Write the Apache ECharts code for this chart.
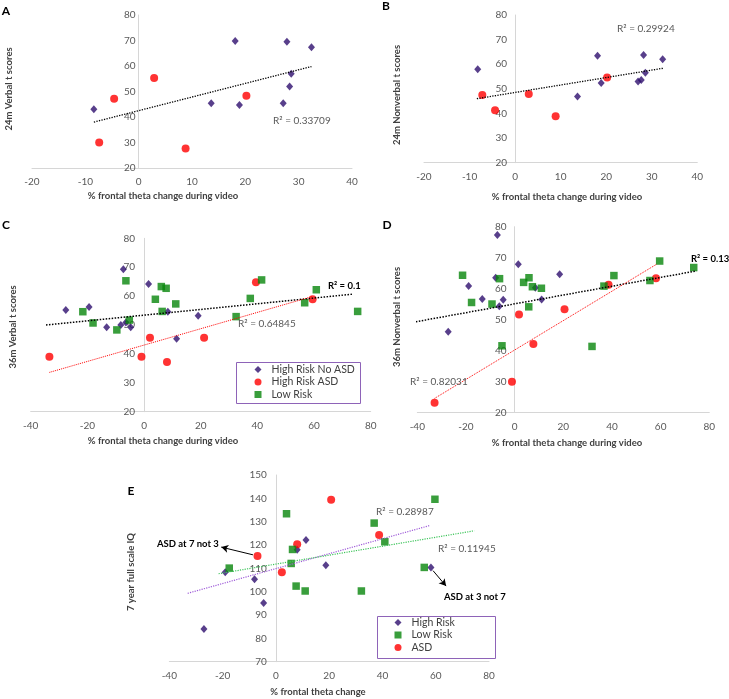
<!DOCTYPE html>
<html><head><meta charset="utf-8">
<script src="https://cdn.jsdelivr.net/npm/echarts@6/dist/echarts.min.js"></script>
<style>html,body{margin:0;padding:0;background:#fff}#c{width:729px;height:699px}</style>
</head><body><div id="c"></div>
<script>
// ---------- tick labels ----------
const xTicksAB = [-20, -10, 0, 10, 20, 30, 40];
const yTicksABCD = [20, 30, 40, 50, 60, 70, 80];
const xTicksCDE = [-40, -20, 0, 20, 40, 60, 80];
const yTicksE = [70, 80, 90, 100, 110, 120, 130, 140, 150];

// ---------- Panel A: 24m Verbal t scores ----------
const aHighRiskNoASD = [[-8.4,43.0],[18.1,69.8],[27.8,69.5],[32.4,67.4],[28.6,57.0],[28.3,52.0],[13.6,45.4],[18.9,44.7],[27.1,45.4]];
const aHighRiskASD = [[2.9,55.3],[-4.6,47.2],[-7.4,30.0],[8.8,27.6],[20.2,48.3]];
const aTrendAll = [[-8.4,38.0],[32.4,59.8]];

// ---------- Panel B: 24m Nonverbal t scores ----------
const bHighRiskNoASD = [[-8.2,58.0],[18.1,63.4],[28.2,63.8],[32.4,62.0],[28.6,56.5],[27.7,53.6],[27.0,53.0],[18.9,52.4],[13.7,46.9]];
const bHighRiskASD = [[-7.2,47.5],[-4.4,41.3],[3.0,47.9],[8.9,38.9],[20.2,54.6]];
const bTrendAll = [[-8.4,46.0],[32.6,58.4]];

// ---------- Panel C: 36m Verbal t scores ----------
const cHighRiskNoASD = [[-27.6,55.2],[-19.4,56.2],[-7.3,69.3],[1.6,64.2],[-13.2,49.2],[-8.2,50.0],[-6.4,50.9],[-4.7,49.2],[8.4,54.6],[11.5,45.2],[19.1,53.2]];
const cHighRiskASD = [[-33.4,39.0],[-0.9,39.0],[2.1,45.6],[8.1,37.2],[21.2,45.6],[39.5,64.8],[59.5,58.9]];
const cLowRisk = [[-6.4,65.3],[-21.6,54.6],[-18.0,50.7],[-9.6,48.3],[-5.2,51.7],[4.0,58.9],[6.1,63.3],[7.8,62.7],[6.4,54.7],[11.2,57.3],[32.5,52.9],[37.5,59.2],[41.5,65.6],[56.7,57.7],[60.8,62.2],[75.4,54.7]];
const cTrendAll = [[-34.6,50.0],[73.9,60.7]];
const cTrendASD = [[-33.4,33.6],[59.2,59.8]];

// ---------- Panel D: 36m Nonverbal t scores ----------
const dHighRiskNoASD = [[-7.1,77.3],[1.5,67.9],[-7.8,63.5],[-18.9,60.8],[-13.3,56.6],[-4.7,56.4],[-6.3,54.3],[-27.3,46.0],[18.5,64.6],[8.5,60.3],[11.1,56.5]];
const dHighRiskASD = [[-32.9,23.1],[-1.1,29.9],[1.8,51.6],[7.7,42.1],[20.5,53.3],[38.6,61.2],[58.1,63.3]];
const dLowRisk = [[-21.4,64.3],[-6.2,63.2],[-17.7,55.5],[-9.3,55.0],[-5.2,41.5],[3.7,62.0],[5.9,63.5],[7.3,60.6],[11.0,60.1],[5.8,54.1],[31.8,41.3],[36.7,60.8],[40.8,64.2],[55.6,62.6],[59.6,68.9],[73.6,66.8]];
const dTrendAll = [[-41.8,49.1],[74.7,65.7]];
const dTrendASD = [[-32.9,24.5],[58.2,67.8]];

// ---------- Panel E: 7 year full scale IQ ----------
const eHighRisk = [[-27.0,84.0],[-19.0,108.3],[-8.0,105.3],[-4.6,95.1],[8.0,118.0],[11.3,122.2],[18.75,111.3],[58.2,110.4]];
const eLowRisk = [[-17.5,110.1],[4.0,133.4],[6.25,118.1],[5.75,112.1],[7.6,102.4],[11.0,100.3],[32.1,100.3],[36.9,129.4],[40.9,121.4],[59.7,139.6],[55.7,110.4]];
const eASD = [[-6.9,115.3],[2.25,108.3],[8.0,120.3],[20.75,139.4],[38.75,124.3]];
const eTrendHighRisk = [[-33.1,99.3],[57.9,128.4]];
const eTrendLowRisk = [[-21.5,107.7],[74.5,126.1]];
const eArrow7not3 = [[-8.6,115.8],[-20.5,119.1]];
const eArrow3not7 = [[59.0,109.0],[63.9,102.4]];

// ---------- styles ----------
const FONT = 'Lato, "Noto Sans", sans-serif';
const NAVY = '#2E0F6E', RED = '#FF0000', GREEN = '#07860B';
const AXIS_GREY = '#D6D6D6', LABEL_GREY = '#595959';

const grids = [
  {left: 32, top: 15, width: 320, height: 153},
  {left: 424, top: 15, width: 273.3, height: 147.7},
  {left: 30.7, top: 238.3, width: 340, height: 173.4},
  {left: 417.3, top: 226.7, width: 292, height: 185.6},
  {left: 169.3, top: 475, width: 319.7, height: 186.7}
];

function xAx(gi, ticks) {
  return {type: 'value', gridIndex: gi, min: ticks[0], max: ticks[ticks.length - 1], interval: ticks[1] - ticks[0],
    axisLine: {onZero: false, lineStyle: {color: AXIS_GREY, width: 1}}, axisTick: {show: false}, splitLine: {show: false},
    axisLabel: {color: LABEL_GREY, fontSize: 10, fontFamily: FONT, margin: 9}};
}
// y axis crosses the x axis at x = 0 (Excel style)
function yAx(gi, ticks, xTicks, margin) {
  const xmin = xTicks[0], xmax = xTicks[xTicks.length - 1];
  const shift = grids[gi].width * (0 - xmin) / (xmax - xmin);
  return {type: 'value', gridIndex: gi, min: ticks[0], max: ticks[ticks.length - 1], interval: ticks[1] - ticks[0],
    offset: -shift,
    axisLine: {onZero: false, lineStyle: {color: AXIS_GREY, width: 1}}, axisTick: {show: false}, splitLine: {show: false},
    axisLabel: {color: LABEL_GREY, fontSize: 10, fontFamily: FONT, margin: margin}};
}

function diamonds(name, gi, data) {
  return {type: 'scatter', name, xAxisIndex: gi, yAxisIndex: gi, data, symbol: 'diamond', symbolSize: [7, 8], itemStyle: {color: NAVY}, z: 3};
}
function circles(name, gi, data) {
  return {type: 'scatter', name, xAxisIndex: gi, yAxisIndex: gi, data, symbol: 'circle', symbolSize: 8, itemStyle: {color: RED}, z: 4};
}
function squares(name, gi, data) {
  return {type: 'scatter', name, xAxisIndex: gi, yAxisIndex: gi, data, symbol: 'rect', symbolSize: 7.5, itemStyle: {color: GREEN}, z: 5};
}
function trend(gi, data, color, width, dash) {
  return {type: 'line', xAxisIndex: gi, yAxisIndex: gi, data, showSymbol: false, symbol: 'none', silent: true, z: 6,
    lineStyle: {color, width, type: dash}};
}
function arrow(gi, pts) {
  return {type: 'line', xAxisIndex: gi, yAxisIndex: gi, data: [], silent: true, z: 7,
    markLine: {silent: true, animation: false, symbol: ['none', 'arrow'], symbolSize: [6, 7],
      label: {show: false}, lineStyle: {color: '#000', width: 1, type: 'solid'},
      data: [[{coord: pts[0]}, {coord: pts[1]}]]}};
}

function txt(x, y, text, opts) {
  opts = opts || {};
  return {type: 'text', x, y, rotation: opts.rot || 0, z: 10,
    style: {text, fill: opts.color || '#404040', font: (opts.weight || 'normal') + ' ' + (opts.size || 10) + 'px ' + FONT,
      textAlign: opts.align || 'left', textVerticalAlign: 'middle'}};
}

const graphics = [
  // panel letters
  txt(6, 11, 'A', {weight: 'bold', size: 12, color: '#000', align: 'center'}),
  txt(386, 6, 'B', {weight: 'bold', size: 12, color: '#000', align: 'center'}),
  txt(6, 225, 'C', {weight: 'bold', size: 12, color: '#000', align: 'center'}),
  txt(387, 225, 'D', {weight: 'bold', size: 12, color: '#000', align: 'center'}),
  txt(131, 491, 'E', {weight: 'bold', size: 12, color: '#000', align: 'center'}),
  // axis titles
  txt(163, 196, '% frontal theta change during video', {weight: 'bold', size: 9.5, align: 'center'}),
  txt(567, 197, '% frontal theta change during video', {weight: 'bold', size: 9.5, align: 'center'}),
  txt(163, 441, '% frontal theta change during video', {weight: 'bold', size: 9.5, align: 'center'}),
  txt(567, 443, '% frontal theta change during video', {weight: 'bold', size: 9.5, align: 'center'}),
  txt(318, 692, '% frontal theta change', {weight: 'bold', size: 9.5, align: 'center'}),
  txt(9, 89, '24m Verbal t scores', {weight: 'bold', size: 9.5, align: 'center', rot: Math.PI / 2}),
  txt(397, 95, '24m Nonverbal t scores', {weight: 'bold', size: 9.5, align: 'center', rot: Math.PI / 2}),
  txt(13, 327, '36m Verbal t scores', {weight: 'bold', size: 9.5, align: 'center', rot: Math.PI / 2}),
  txt(397, 317, '36m Nonverbal t scores', {weight: 'bold', size: 9.5, align: 'center', rot: Math.PI / 2}),
  txt(131, 572, '7 year full scale IQ', {weight: 'bold', size: 9.5, align: 'center', rot: Math.PI / 2}),
  // R² labels
  txt(273, 121, 'R² = 0.33709', {color: LABEL_GREY}),
  txt(617, 29, 'R² = 0.29924', {color: LABEL_GREY}),
  txt(328, 286, 'R² = 0.1', {color: '#000', weight: 'bold', size: 9.5}),
  txt(238, 324, 'R² = 0.64845', {color: LABEL_GREY}),
  txt(691, 259, 'R² = 0.13', {color: '#000', weight: 'bold', size: 9.5}),
  txt(410, 382, 'R² = 0.82031', {color: LABEL_GREY}),
  txt(376, 512, 'R² = 0.28987', {color: LABEL_GREY}),
  txt(438, 549, 'R² = 0.11945', {color: LABEL_GREY}),
  // annotations
  txt(157, 544, 'ASD at 7 not 3', {color: '#000', weight: 'bold', size: 9.5}),
  txt(444, 597, 'ASD at 3 not 7', {color: '#000', weight: 'bold', size: 9.5}),
  // legend boxes
  {type: 'rect', shape: {x: 236.5, y: 362.5, width: 124, height: 41}, style: {fill: 'none', stroke: '#8E63B8', lineWidth: 1}, z: 9},
  {type: 'rect', shape: {x: 377.5, y: 616.5, width: 118, height: 42}, style: {fill: 'none', stroke: '#8E63B8', lineWidth: 1}, z: 9}
];

const legendText = {fontSize: 10.5, color: '#404040', fontFamily: FONT, padding: [0, 0, 0, 5]};
const option = {
  animation: false,
  backgroundColor: '#fff',
  grid: grids,
  xAxis: [xAx(0, xTicksAB), xAx(1, xTicksAB), xAx(2, xTicksCDE), xAx(3, xTicksCDE), xAx(4, xTicksCDE)],
  yAxis: [yAx(0, yTicksABCD, xTicksAB, 3), yAx(1, yTicksABCD, xTicksAB, 8), yAx(2, yTicksABCD, xTicksCDE, 9),
          yAx(3, yTicksABCD, xTicksCDE, 8), yAx(4, yTicksE, xTicksCDE, 9)],
  legend: [
    {orient: 'vertical', left: 236, top: 364, padding: [0, 0, 0, 18.5], itemWidth: 7, itemHeight: 7, itemGap: 1.5,
      selectedMode: false, textStyle: legendText,
      data: [{name: 'High Risk No ASD', icon: 'diamond'}, {name: 'High Risk ASD', icon: 'circle'}, {name: 'Low Risk', icon: 'rect'}]},
    {orient: 'vertical', left: 377, top: 617, padding: [0, 0, 0, 17.5], itemWidth: 7, itemHeight: 7, itemGap: 1.5,
      selectedMode: false, textStyle: legendText,
      data: [{name: 'High Risk', icon: 'diamond'}, {name: 'Low Risk', icon: 'rect'}, {name: 'ASD', icon: 'circle'}]}
  ],
  graphic: graphics,
  series: [
    diamonds('High Risk No ASD', 0, aHighRiskNoASD), circles('High Risk ASD', 0, aHighRiskASD),
    trend(0, aTrendAll, '#000', 1.3, [1.3, 1.3]),
    diamonds('High Risk No ASD', 1, bHighRiskNoASD), circles('High Risk ASD', 1, bHighRiskASD),
    trend(1, bTrendAll, '#000', 1.3, [1.3, 1.3]),
    diamonds('High Risk No ASD', 2, cHighRiskNoASD), circles('High Risk ASD', 2, cHighRiskASD), squares('Low Risk', 2, cLowRisk),
    trend(2, cTrendAll, '#000', 1.5, [1.5, 1.5]), trend(2, cTrendASD, RED, 1, [1, 1]),
    diamonds('High Risk No ASD', 3, dHighRiskNoASD), circles('High Risk ASD', 3, dHighRiskASD), squares('Low Risk', 3, dLowRisk),
    trend(3, dTrendAll, '#000', 1.5, [1.5, 1.5]), trend(3, dTrendASD, RED, 1, [1, 1]),
    diamonds('High Risk', 4, eHighRisk), squares('Low Risk', 4, eLowRisk), circles('ASD', 4, eASD),
    trend(4, eTrendHighRisk, '#9E5BD8', 1.2, [1.2, 1.2]), trend(4, eTrendLowRisk, '#3DC45A', 1.2, [1.2, 1.2]),
    arrow(4, eArrow7not3), arrow(4, eArrow3not7)
  ]
};
echarts.init(document.getElementById('c')).setOption(option);
</script></body></html>
